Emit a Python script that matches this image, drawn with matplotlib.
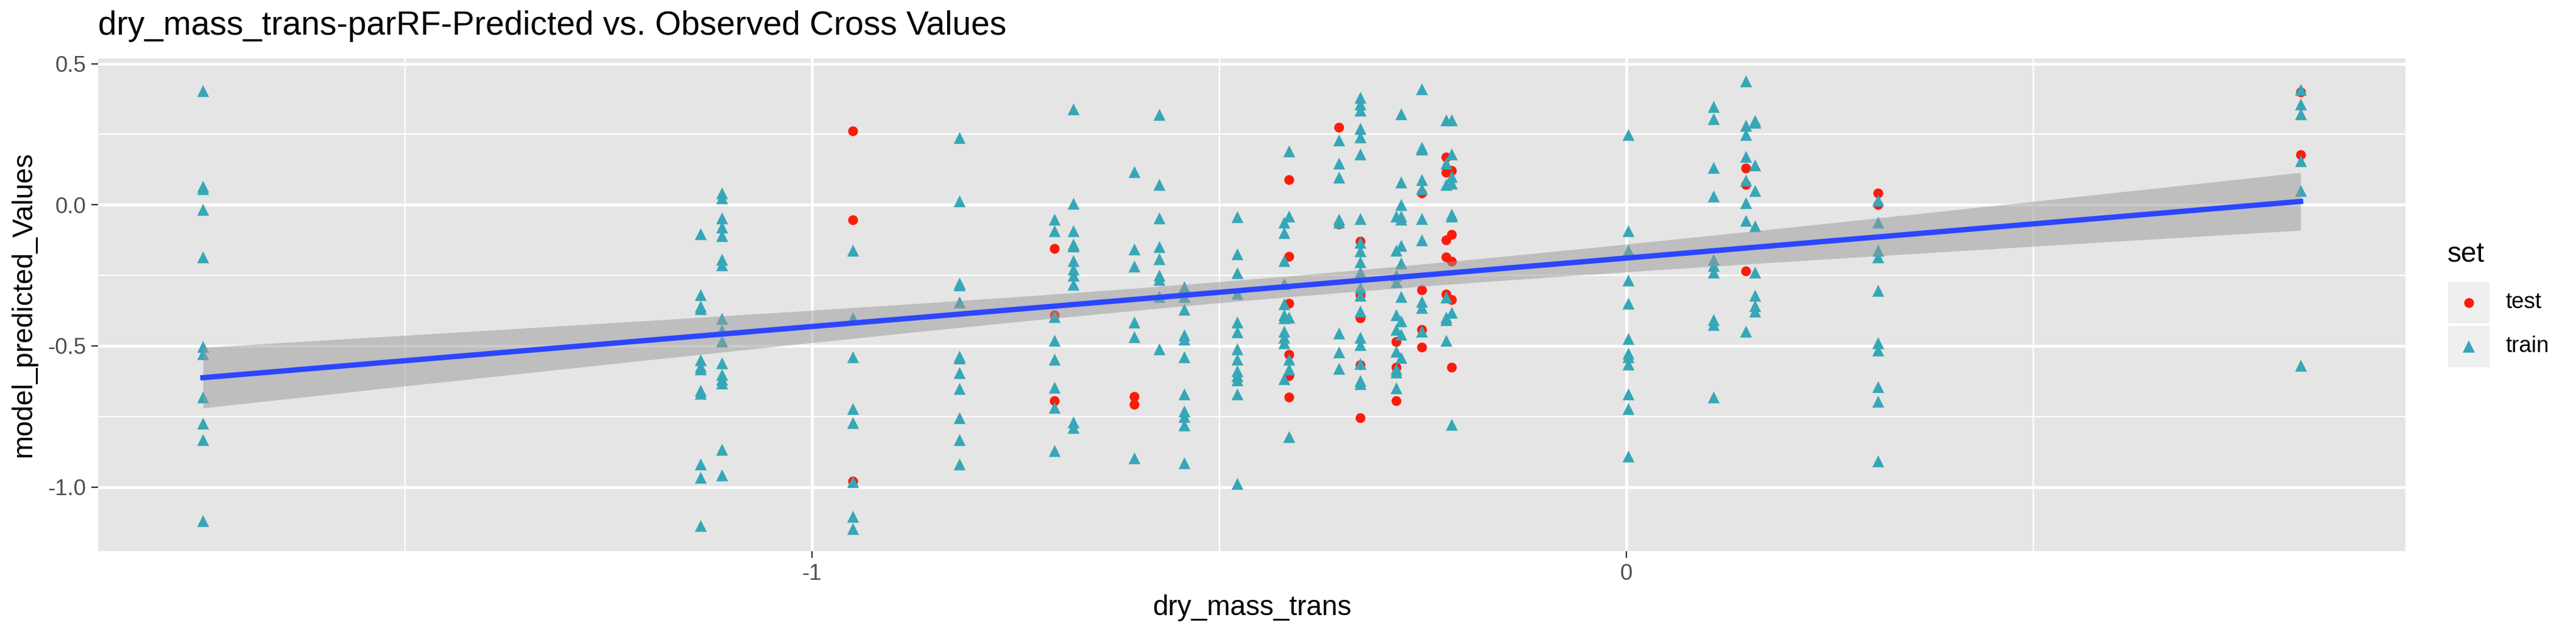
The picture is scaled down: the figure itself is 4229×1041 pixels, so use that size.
import matplotlib
matplotlib.use("Agg")
import matplotlib.pyplot as plt
import numpy as np

plt.rcParams["font.family"] = ["Liberation Sans", "DejaVu Sans"]

# distinct cross values on the x axis, and predicted values per column
cross_x = [-1.748, -1.137, -1.111, -0.950, -0.819, -0.702, -0.679, -0.604, -0.574,
           -0.543, -0.478, -0.420, -0.414, -0.353, -0.327, -0.283, -0.277, -0.251,
           -0.221, -0.215, 0.002, 0.107, 0.147, 0.158, 0.309, 0.828]

train_y = [
    [0.405, 0.066, 0.056, -0.016, -0.186, -0.502, -0.528, -0.682, -0.775, -0.833, -1.119],
    [-0.103, -0.318, -0.359, -0.369, -0.549, -0.574, -0.582, -0.657, -0.668, -0.918, -0.966, -1.136],
    [0.041, 0.024, -0.046, -0.079, -0.109, -0.193, -0.213, -0.403, -0.445, -0.482, -0.561,
     -0.602, -0.618, -0.632, -0.868, -0.957],
    [-0.161, -0.401, -0.539, -0.722, -0.771, -0.982, -1.105, -1.148],
    [0.238, 0.013, -0.278, -0.285, -0.345, -0.537, -0.544, -0.596, -0.652, -0.755, -0.833, -0.918],
    [-0.051, -0.092, -0.397, -0.481, -0.547, -0.646, -0.719, -0.872],
    [0.340, 0.004, -0.092, -0.139, -0.147, -0.198, -0.229, -0.250, -0.282, -0.769, -0.789],
    [0.116, -0.156, -0.217, -0.415, -0.468, -0.898],
    [0.319, 0.071, -0.046, -0.148, -0.191, -0.250, -0.264, -0.326, -0.512],
    [-0.291, -0.326, -0.370, -0.462, -0.477, -0.539, -0.670, -0.732, -0.751, -0.781, -0.915],
    [-0.043, -0.174, -0.242, -0.315, -0.415, -0.450, -0.512, -0.547, -0.588, -0.606, -0.621,
     -0.670, -0.988],
    [-0.063, -0.098, -0.197, -0.280, -0.352, -0.390, -0.401, -0.448, -0.471, -0.489, -0.617],
    [0.191, -0.040, -0.399, -0.547, -0.582, -0.821],
    [0.229, 0.147, 0.097, -0.051, -0.063, -0.454, -0.522, -0.579],
    [0.380, 0.357, 0.334, 0.270, 0.240, 0.180, -0.049, -0.133, -0.163, -0.203, -0.240, -0.294,
     -0.322, -0.378, -0.471, -0.495, -0.562, -0.623, -0.635],
    [-0.040, -0.162, -0.250, -0.273, -0.390, -0.442, -0.520, -0.582, -0.594, -0.649],
    [0.322, 0.081, 0.001, -0.040, -0.051, -0.145, -0.207, -0.326, -0.411, -0.460, -0.541],
    [0.410, 0.203, 0.196, 0.089, 0.056, -0.049, -0.124, -0.343, -0.364, -0.448],
    [0.301, 0.147, 0.071, -0.327, -0.399, -0.408, -0.481],
    [0.301, 0.180, 0.100, 0.077, -0.034, -0.040, -0.382, -0.778],
    [0.249, -0.092, -0.162, -0.267, -0.349, -0.475, -0.526, -0.539, -0.565, -0.670, -0.722, -0.891],
    [0.348, 0.305, 0.133, 0.030, -0.194, -0.215, -0.238, -0.407, -0.425, -0.681],
    [0.439, 0.281, 0.249, 0.170, 0.086, 0.007, -0.055, -0.448],
    [0.299, 0.291, 0.141, 0.051, -0.075, -0.240, -0.320, -0.357, -0.378],
    [0.016, -0.063, -0.162, -0.186, -0.303, -0.489, -0.516, -0.644, -0.697, -0.909],
    [0.409, 0.356, 0.323, 0.156, 0.051, -0.570],
]

test_y = [
    [], [], [],
    [0.261, -0.054, -0.979],
    [],
    [-0.155, -0.390, -0.695],
    [],
    [-0.679, -0.707],
    [], [], [], [],
    [0.089, -0.182, -0.349, -0.530, -0.606, -0.681],
    [0.275, -0.069],
    [-0.130, -0.320, -0.401, -0.568, -0.755],
    [-0.485, -0.576, -0.695],
    [],
    [0.042, -0.302, -0.442, -0.504],
    [0.168, 0.114, -0.125, -0.186, -0.316],
    [0.121, -0.106, -0.200, -0.337, -0.576],
    [], [],
    [0.131, 0.071, -0.235],
    [],
    [0.042, 0.001],
    [0.399, 0.177],
]

tr_x = np.concatenate([[x] * len(ys) for x, ys in zip(cross_x, train_y)])
tr_y = np.concatenate([ys for ys in train_y])
te_x = np.concatenate([[x] * len(ys) for x, ys in zip(cross_x, test_y)])
te_y = np.concatenate([ys for ys in test_y if ys])

# lm fit with 95% confidence band, like geom_smooth(method = "lm")
all_x = np.concatenate([tr_x, te_x])
all_y = np.concatenate([tr_y, te_y])
n = len(all_x)
slope, icpt = np.polyfit(all_x, all_y, 1)
resid = all_y - (slope * all_x + icpt)
s = np.sqrt(np.sum(resid ** 2) / (n - 2))
xbar = all_x.mean()
sxx = np.sum((all_x - xbar) ** 2)
xs = np.linspace(all_x.min(), all_x.max(), 80)
fit = slope * xs + icpt
se = s * np.sqrt(1.0 / n + (xs - xbar) ** 2 / sxx)
tq = 1.969

W, H, DPI = 4229, 1041, 300
fig = plt.figure(figsize=(W / DPI, H / DPI), dpi=DPI)
ax = fig.add_axes([161 / W, 1 - 905 / H, (3949 - 161) / W, (905 - 96) / H])
ax.set_facecolor("#E5E5E5")

xmin, xmax = all_x.min(), all_x.max()
ymin, ymax = all_y.min(), all_y.max()
px, py = 0.05 * (xmax - xmin), 0.05 * (ymax - ymin)
ax.set_xlim(xmin - px, xmax + px)
ax.set_ylim(ymin - py, ymax + py)

for v in [-1.5, -0.5, 0.5]:
    ax.axvline(v, color="white", lw=0.55, zorder=0)
for v in [0.25, -0.25, -0.75]:
    ax.axhline(v, color="white", lw=0.55, zorder=0)
for v in [-1, 0]:
    ax.axvline(v, color="white", lw=1.1, zorder=0)
for v in [0.5, 0.0, -0.5, -1.0]:
    ax.axhline(v, color="white", lw=1.1, zorder=0)

ax.scatter(te_x, te_y, marker="o", s=15, color="#FF1A0A", linewidths=0, zorder=2)
ax.scatter(tr_x, tr_y, marker="^", s=22, color="#36A7B7", linewidths=0, zorder=3)
ax.fill_between(xs, fit - tq * se, fit + tq * se, color="#999999", alpha=0.5,
                linewidth=0, zorder=4)
ax.plot(xs, fit, color="#2B46FF", lw=2.1, zorder=5)

ax.set_xticks([-1, 0])
ax.set_xticklabels(["-1", "0"])
ax.set_yticks([0.5, 0.0, -0.5, -1.0])
ax.set_yticklabels(["0.5", "0.0", "-0.5", "-1.0"])
ax.tick_params(length=2.75, width=0.55, color="#333333", labelcolor="#4D4D4D",
               labelsize=8.8, pad=2)
for sp in ax.spines.values():
    sp.set_visible(False)

ax.set_xlabel("dry_mass_trans", fontsize=11, labelpad=4)
ax.set_ylabel("model_predicted_Values", fontsize=11, labelpad=4)
fig.text(161 / W, 1 - 43 / H, "dry_mass_trans-parRF-Predicted vs. Observed Cross Values",
         fontsize=13.2, ha="left", va="center")

# legend drawn by hand, ggplot style
fig.text(4018 / W, 1 - 418 / H, "set", fontsize=11, ha="left", va="center")
kw, kh = 68 / W, 68 / H
for i, (lab, mk, col, sz) in enumerate([("test", "o", "#FF1A0A", 15),
                                         ("train", "^", "#36A7B7", 22)]):
    y0 = 1 - (463 + 72 * i + 68) / H
    fig.patches.append(plt.Rectangle((4019 / W, y0), kw, kh, transform=fig.transFigure,
                                     facecolor="#EFEFEF", edgecolor="none"))
    fig.add_artist(matplotlib.lines.Line2D([4053 / W], [y0 + kh / 2], marker=mk,
                                           markersize=np.sqrt(sz), color=col,
                                           markeredgewidth=0, linestyle="none",
                                           transform=fig.transFigure))
    fig.text(4113 / W, y0 + kh / 2, lab, fontsize=8.8, ha="left", va="center")

fig.savefig("out.png", dpi=DPI, facecolor="white")
